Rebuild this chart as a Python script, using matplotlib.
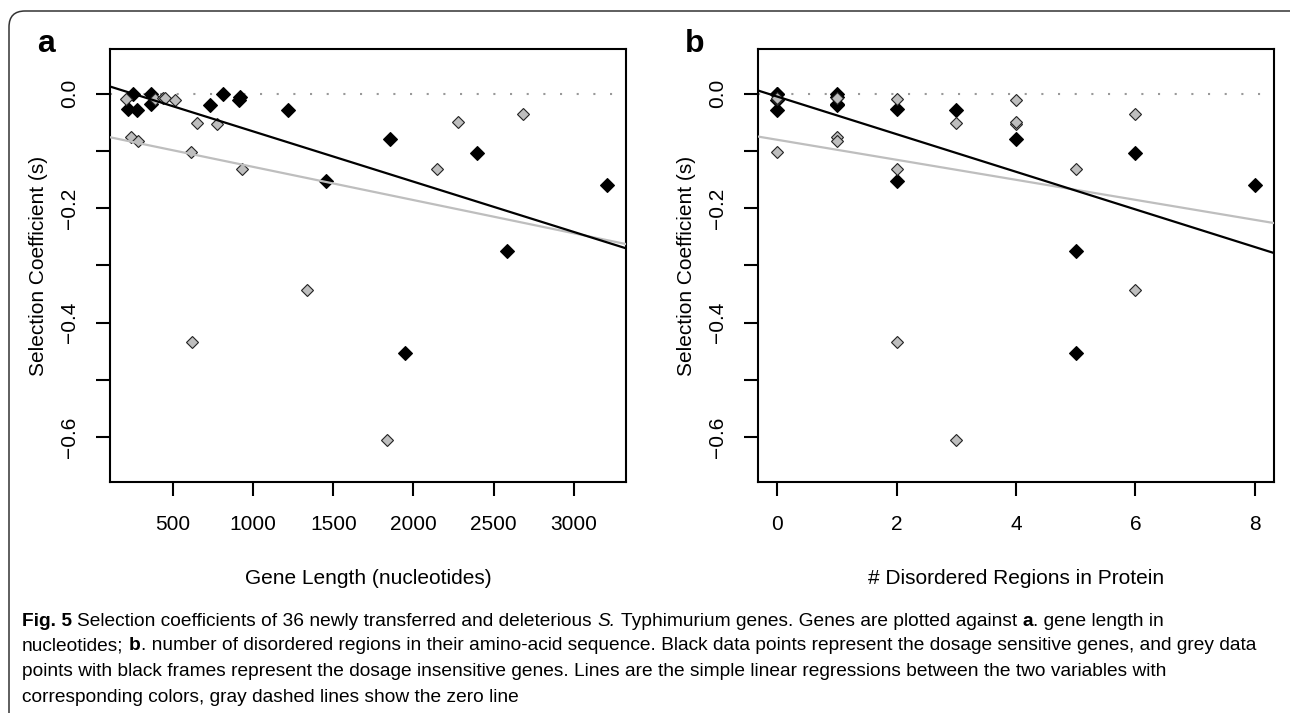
import numpy as np
import matplotlib
matplotlib.use('Agg')
import matplotlib.pyplot as plt
from matplotlib import font_manager
from matplotlib.patches import FancyBboxPatch
from matplotlib.transforms import IdentityTransform

# ---------------- data ----------------
# dosage sensitive genes (black)
len_black = [252, 221, 273, 361, 361, 731, 810, 919, 914, 1217, 1852, 2394, 1452, 3206, 2585, 1946]
dr_black = [0, 2, 0, 1, 1, 1, 0, 1, 0, 3, 4, 6, 2, 8, 5, 5]
s_black = [0.0, -0.026, -0.029, 0.0, -0.018, -0.020, -0.001, -0.006, -0.011, -0.028,
           -0.080, -0.103, -0.152, -0.160, -0.275, -0.452]
# dosage insensitive genes (grey)
len_gray = [206, 237, 279, 387, 439, 452, 512, 648, 777, 610, 929, 2277, 2148, 2686, 1337, 616, 1833]
dr_gray = [0, 1, 1, 2, 0, 1, 4, 3, 4, 0, 2, 4, 5, 6, 6, 2, 3]
s_gray = [-0.010, -0.076, -0.082, -0.010, -0.008, -0.007, -0.011, -0.051, -0.053, -0.102,
          -0.132, -0.049, -0.131, -0.035, -0.342, -0.433, -0.605]

xticks_a = [500, 1000, 1500, 2000, 2500, 3000]
xticks_b = [0, 2, 4, 6, 8]
yticks = [0.0, -0.1, -0.2, -0.3, -0.4, -0.5, -0.6]
ytick_labels = ['0.0', '', '\u22120.2', '', '\u22120.4', '', '\u22120.6']

xlabel_a = 'Gene Length (nucleotides)'
xlabel_b = '# Disordered Regions in Protein'
ylabel = 'Selection Coefficient (s)'

caption_lines = [
    [("Fig. 5", 'bold', 'normal'),
     (" Selection coefficients of 36 newly transferred and deleterious ", 'normal', 'normal'),
     ("S.", 'normal', 'italic'),
     (" Typhimurium genes. Genes are plotted against ", 'normal', 'normal'),
     ("a", 'bold', 'normal'),
     (". gene length in", 'normal', 'normal')],
    [("nucleotides; ", 'normal', 'normal'),
     ("b", 'bold', 'normal'),
     (". number of disordered regions in their amino-acid sequence. Black data points represent "
      "the dosage sensitive genes, and grey data", 'normal', 'normal')],
    [("points with black frames represent the dosage insensitive genes. Lines are the simple "
      "linear regressions between the two variables with", 'normal', 'normal')],
    [("corresponding colors, gray dashed lines show the zero line", 'normal', 'normal')],
]

# ---------------- style ----------------
W, H = 1290, 713
DPI = 100
plt.rcParams['font.family'] = ['Liberation Sans', 'DejaVu Sans']
plt.rcParams['axes.unicode_minus'] = True

GRAY = '#bebebe'
PX = 72.0 / DPI  # points per pixel

fig = plt.figure(figsize=(W / DPI, H / DPI), dpi=DPI)
fig.patch.set_facecolor('white')


def px_axes(left, top, right, bottom):
    return fig.add_axes([left / W, 1 - bottom / H, (right - left) / W, (bottom - top) / H])


ax_a = px_axes(110, 49, 625.7, 482)
ax_b = px_axes(758, 49, 1274, 482)

panels = [
    (ax_a, len_black, len_gray, (106, 3325), xticks_a, xlabel_a, 'a'),
    (ax_b, dr_black, dr_gray, (-0.32, 8.32), xticks_b, xlabel_b, 'b'),
]

for ax, xb, xg, xlim, xt, xl, tag in panels:
    ax.set_xlim(*xlim)
    ax.set_ylim(-0.678, 0.078)
    ax.axhline(0, color='#999999', lw=1.5, ls=(0, (1, 7)), zorder=1)
    ax.plot(xb, s_black, ls='none', marker='D', ms=6.9, mfc='black', mec='black', mew=0.8, zorder=3)
    ax.plot(xg, s_gray, ls='none', marker='D', ms=6.1, mfc=GRAY, mec='#222222', mew=0.8, zorder=4)
    # simple linear regressions
    xx = np.array(xlim)
    kb = np.polyfit(xb, s_black, 1)
    kg = np.polyfit(xg, s_gray, 1)
    ax.plot(xx, np.polyval(kg, xx), color=GRAY, lw=1.6, zorder=5)
    ax.plot(xx, np.polyval(kb, xx), color='black', lw=1.6, zorder=6)
    ax.set_xlim(*xlim)

    ax.set_xticks(xt)
    ax.set_xticklabels([str(v) for v in xt])
    ax.set_yticks(yticks)
    ax.set_yticklabels(ytick_labels)
    for sp in ax.spines.values():
        sp.set_linewidth(1.5)
    ax.tick_params(axis='both', direction='out', length=14 * PX, width=1.5,
                   labelsize=15, colors='black')
    ax.tick_params(axis='x', pad=28 * PX)
    ax.tick_params(axis='y', pad=26 * PX)
    for lab in ax.get_xticklabels():
        lab.set_va('center')
    for lab in ax.get_yticklabels():
        lab.set_rotation(90)
        lab.set_va('center')
        lab.set_ha('center')

    bb = ax.get_position()
    cx = (bb.x0 + bb.x1) / 2
    fig.text(cx, 1 - 578 / H, xl, ha='center', va='center', fontsize=15)
    ylx = bb.x0 * W - 71
    fig.text(ylx / W, 1 - 266 / H, ylabel, rotation=90, ha='center', va='center', fontsize=15)
    fig.text((bb.x0 * W - 73) / W, 1 - 52 / H, tag, ha='left', va='baseline',
             fontsize=23, fontweight='bold')

# ---------------- outer frame ----------------
frame = FancyBboxPatch((9, -40), 1330, H - 11 + 40,
                       boxstyle='round,pad=0,rounding_size=16',
                       transform=IdentityTransform(), fill=False, lw=1.1, ec='#333333')
fig.patches.append(frame)

# ---------------- caption ----------------
names = {f.name for f in font_manager.fontManager.ttflist}
cap_family = 'Liberation Sans Narrow' if 'Liberation Sans Narrow' in names else 'Liberation Sans'

renderer = fig.canvas.get_renderer()


def text_width(s, size, weight='normal', style='normal'):
    t = fig.text(0, 0, s, fontsize=size, family=cap_family, fontweight=weight,
                 fontstyle=style, transform=IdentityTransform())
    w = t.get_window_extent(renderer).width
    t.remove()
    return w


def piece_width(s, size, weight, style):
    # handle leading/trailing spaces explicitly
    core = s.strip(' ')
    sp = text_width('x x', size) - text_width('xx', size)
    nlead = len(s) - len(s.lstrip(' '))
    ntrail = len(s) - len(s.rstrip(' '))
    w = text_width(core, size, weight, style) if core else 0
    return nlead * sp, w, ntrail * sp


base = 12.0
line2 = ''.join(p[0] for p in caption_lines[1])
w_line2 = sum(sum(piece_width(t, base, wt, st)) for t, wt, st in caption_lines[1])
cap_size = base * 1240.0 / w_line2

cap_y = [621, 646, 672, 697]
for pieces, yc in zip(caption_lines, cap_y):
    x = 22.0
    for t, wt, st in pieces:
        lead, w, trail = piece_width(t, cap_size, wt, st)
        x += lead
        core = t.strip(' ')
        if core:
            fig.text(x, H - yc, core, fontsize=cap_size, family=cap_family, fontweight=wt,
                     fontstyle=st, ha='left', va='center', transform=IdentityTransform())
        x += w + trail

fig.savefig('out.png', dpi=DPI, facecolor='white')
